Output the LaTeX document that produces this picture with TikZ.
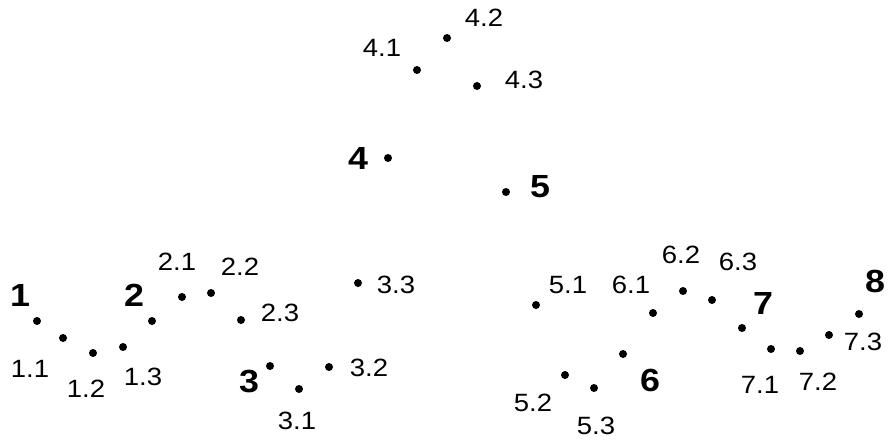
\documentclass[tikz,border=0pt]{standalone}
\usepackage{fontspec}
\setmainfont{Liberation Sans}
\usetikzlibrary{positioning}

\begin{document}
\begin{tikzpicture}[
  x=1pt, y=-1pt,
  dot/.style={circle, fill=black, inner sep=0pt, minimum size=8pt},
  sublabel/.style={inner sep=0pt, xscale=1.1, font=\fontsize{25}{25}\selectfont},
  grouplabel/.style={inner sep=0pt, xscale=1.12, font=\fontsize{32}{32}\selectfont\bfseries}
]
\useasboundingbox (0,0) rectangle (888,439);
% points
\foreach \n/\x/\y in {1/37/321, 11/63/338, 12/93/353, 13/123/347,
    2/152/321, 21/182/297, 22/211/293, 23/241/320,
    3/270/366, 31/299/389, 32/329/367, 33/358/283,
    4/388/158, 41/417/70, 42/447/38, 43/477/86,
    5/506/192, 51/536/305, 52/565/375, 53/594/388,
    6/623/354, 61/653/313, 62/683/291, 63/712/300,
    7/742/328, 71/771/349, 72/800/351, 73/829/335,
    8/859/314}
  \node[dot] (d\n) at (\x,\y) {};
% group numbers
\foreach \n/\x/\y in {1/20/295, 2/134/295, 3/249/382, 4/358/158,
    5/540/187, 6/650/380, 7/763/303, 8/875/281}
  \node[grouplabel] (g\n) at (\x,\y) {\n};
% sub numbers
\foreach \n/\m/\x/\y in {1/1/30/369, 1/2/86/389, 1/3/143/377,
    2/1/177/262, 2/2/240/267, 2/3/280/313,
    3/1/297/421, 3/2/369/368, 3/3/396/285,
    4/1/382/48, 4/2/484/18, 4/3/524/80,
    5/1/568/285, 5/2/533/403, 5/3/596/426,
    6/1/631/285, 6/2/681/255, 6/3/738/262,
    7/1/760/385, 7/2/818/382, 7/3/863/342}
  \node[sublabel] (s\n\m) at (\x,\y) {\n.\m};
\end{tikzpicture}
\end{document}
